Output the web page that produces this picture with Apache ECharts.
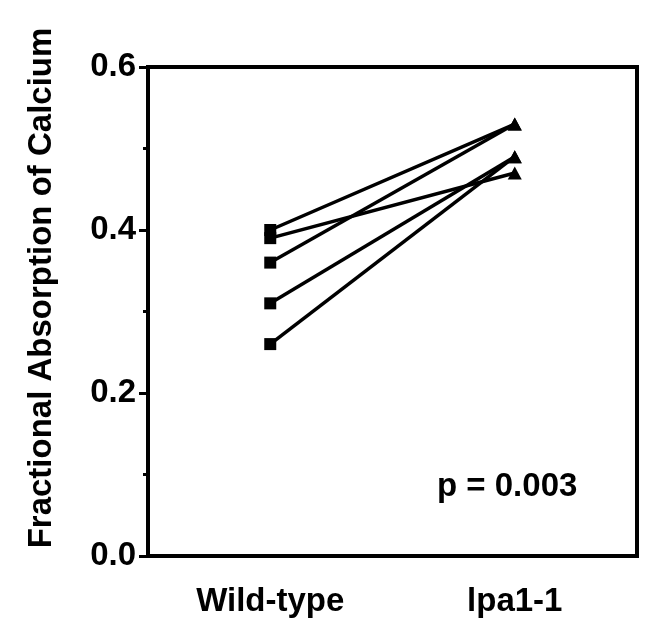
<!DOCTYPE html>
<html>
<head>
<meta charset="utf-8">
<script src="https://cdn.jsdelivr.net/npm/echarts@6/dist/echarts.min.js"></script>
<style>html,body{margin:0;padding:0;background:#fff}#c{width:666px;height:621px}</style>
</head>
<body>
<div id="c"></div>
<script>
var categories = ['Wild-type', 'lpa1-1'];
var wildType = [0.40, 0.39, 0.36, 0.31, 0.26];
var lpa = [0.53, 0.47, 0.53, 0.49, 0.49];
var yTicks = [0, 0.2, 0.4, 0.6];
var pText = 'p = 0.003';
var yTitle = 'Fractional Absorption of Calcium';

var FONT = '"Liberation Sans", Arial, sans-serif';
var series = wildType.map(function (w, i) {
  return {
    type: 'line',
    data: [
      { value: w, symbol: 'rect', symbolSize: 12 },
      { value: lpa[i], symbol: 'triangle', symbolSize: [14, 13] }
    ],
    lineStyle: { color: '#000', width: 3.5 },
    itemStyle: { color: '#000' },
    symbolKeepAspect: false,
    silent: true,
    z: 3
  };
});

var chart = echarts.init(document.getElementById('c'));
chart.setOption({
  animation: false,
  backgroundColor: '#fff',
  grid: { left: 148, right: 29, top: 67, bottom: 65, show: true, borderColor: '#000', borderWidth: 4, backgroundColor: 'transparent' },
  xAxis: {
    type: 'category',
    data: categories,
    boundaryGap: true,
    axisLine: { lineStyle: { color: '#000', width: 4 } },
    axisTick: { alignWithLabel: true, length: 13, lineStyle: { color: '#000', width: 4 } },
    axisLabel: { color: '#000', fontFamily: FONT, fontWeight: 'bold', fontSize: 33, margin: 29 },
    splitLine: { show: false }
  },
  yAxis: {
    type: 'value',
    min: 0, max: 0.6, interval: 0.2,
    axisLine: { show: true, lineStyle: { color: '#000', width: 4 } },
    axisTick: { show: true, length: 9, lineStyle: { color: '#000', width: 3 } },
    minorTick: { show: true, splitNumber: 2, length: 5, lineStyle: { color: '#000', width: 3 } },
    axisLabel: {
      color: '#000', fontFamily: FONT, fontWeight: 'bold', fontSize: 33, margin: 12,
      formatter: function (v) {
        for (var k = 0; k < yTicks.length; k++) if (Math.abs(yTicks[k] - v) < 1e-9) return v.toFixed(1);
        return '';
      }
    },
    splitLine: { show: false }
  },
  graphic: [
    { type: 'text', left: 437, top: 470, style: { text: pText, font: 'bold 33px ' + FONT, fill: '#000' } },
    { type: 'text', x: 42, y: 288, rotation: Math.PI / 2,
      style: { text: yTitle, font: 'bold 33px ' + FONT, fill: '#000', align: 'center', verticalAlign: 'middle' } }
  ],
  series: series
});
</script>
</body>
</html>
